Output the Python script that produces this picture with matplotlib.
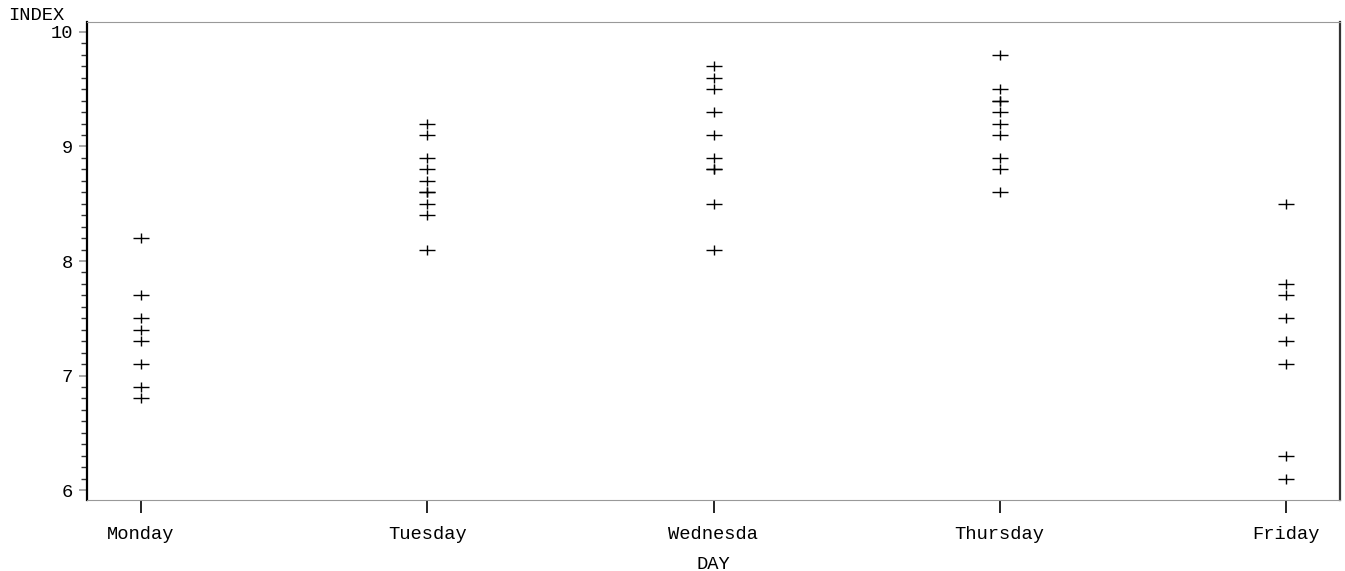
import matplotlib
matplotlib.use("Agg")
import matplotlib.pyplot as plt
from matplotlib.path import Path
from matplotlib.ticker import MultipleLocator

days = ["Monday", "Tuesday", "Wednesda", "Thursday", "Friday"]
monday = [8.2, 7.7, 7.5, 7.4, 7.3, 7.1, 6.9, 6.8]
tuesday = [9.2, 9.1, 8.9, 8.8, 8.7, 8.6, 8.6, 8.5, 8.4, 8.1]
wednesday = [9.7, 9.6, 9.5, 9.3, 9.1, 8.9, 8.8, 8.8, 8.5, 8.1]
thursday = [9.8, 9.5, 9.4, 9.4, 9.3, 9.2, 9.1, 8.9, 8.8, 8.6]
friday = [8.5, 7.8, 7.7, 7.5, 7.3, 7.1, 6.3, 6.1]
index_values = [monday, tuesday, wednesday, thursday, friday]
y_ticks = [6, 7, 8, 9, 10]

mono = ["Liberation Mono", "DejaVu Sans Mono"]
fs = 13.5

# plus marker, wider than tall
plus = Path([(-1, 0), (1, 0), (0, -0.62), (0, 0.62)],
            [Path.MOVETO, Path.LINETO, Path.MOVETO, Path.LINETO])

fig = plt.figure(figsize=(13.45, 5.71), dpi=100)
ax = fig.add_axes([87 / 1345, 71 / 571, 1253 / 1345, 478 / 571])

for i, vals in enumerate(index_values):
    ax.plot([i] * len(vals), vals, linestyle="none", marker=plus,
            markersize=11, markeredgewidth=1.0, color="black")

ax.set_xlim(-0.189, 4.189)
ax.set_ylim(5.913, 10.087)
ax.set_xticks(range(len(days)))
ax.set_xticklabels(days, family=mono, fontsize=fs)
ax.set_yticks(y_ticks)
ax.set_yticklabels([str(t) for t in y_ticks], family=mono, fontsize=fs)
ax.yaxis.set_minor_locator(MultipleLocator(0.1))

ax.tick_params(axis="x", direction="out", length=9, width=1.2, color="black", pad=10)
ax.tick_params(axis="y", which="major", direction="out", length=6, width=1.2, color="#999999", pad=4)
ax.tick_params(axis="y", which="minor", direction="out", length=4, width=1, color="#333333")

ax.spines["left"].set_color("black")
ax.spines["left"].set_linewidth(1.6)
ax.spines["right"].set_color("#333333")
ax.spines["right"].set_linewidth(1.6)
ax.spines["top"].set_color("#999999")
ax.spines["bottom"].set_color("#999999")

ax.set_xlabel("DAY", family=mono, fontsize=fs)
ax.xaxis.set_label_coords(0.5, -0.117)
fig.text(8 / 1345, 1 - 16 / 571, "INDEX", family=mono, fontsize=fs, va="center", ha="left")

fig.savefig("out.png", dpi=100)
